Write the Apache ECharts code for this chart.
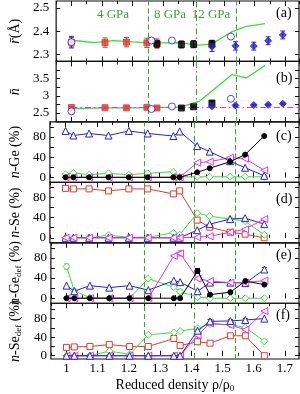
<!DOCTYPE html>
<html><head><meta charset="utf-8">
<script src="https://cdn.jsdelivr.net/npm/echarts@6/dist/echarts.min.js"></script>
<style>html,body{margin:0;padding:0;background:#fff}#c{width:300px;height:394px}</style>
</head><body><div id="c"></div>
<script>
// ---------- data ----------
const simX = [1.0, 1.025, 1.075, 1.137, 1.202, 1.262, 1.344, 1.364, 1.42, 1.46, 1.525, 1.573, 1.634];
// (a) mean bond length, (b) mean coordination: simulation
const simR = [2.361, 2.358, 2.351, 2.360, 2.354, 2.349, 2.351, 2.349, 2.340, 2.346, 2.397, 2.421, 2.433];
const simN = [2.625, 2.63, 2.64, 2.65, 2.65, 2.655, 2.67, 2.69, 2.846, 3.14, 3.615, 3.52, 3.885];
// experiments
const expRedX = [1.0, 1.11, 1.18, 1.247, 1.28];
const expRedR = [2.353, 2.351, 2.353, 2.350, 2.347];
const expRedRErr = [0.02, 0.02, 0.02, 0.02, 0.02];
const expRedN = [2.66, 2.654, 2.65, 2.664, 2.645];
const expRedNErr = [0.03, 0.02, 0.03, 0.02, 0.03];
const expBlackX = [1.28, 1.36, 1.40, 1.46];
const expBlackR = [2.346, 2.343, 2.344, 2.346];
const expBlackRErr = [0.015, 0.015, 0.015, 0.015];
const expBlackN = [null, 2.644, 2.68, 2.79];
const expBlackNErr = [0, 0.02, 0.02, 0.05];
const expBlueOX = [1.0, 1.262, 1.329, 1.522];
const expBlueOR = [2.353, 2.360, 2.360, 2.377];
const expBlueORErr = [0.025, 0, 0, 0];
const expBlueON = [2.548, 2.615, 2.69, 2.913];
const expBlueFX = [1.46, 1.537, 1.597, 1.644, 1.692];
const expBlueFR = [2.333, 2.337, 2.336, 2.359, 2.384];
const expBlueFRErr = [0.02, 0.018, 0.017, 0.017, 0.017];
const expBlueFN = [2.69, 2.72, 2.73, 2.74, 2.77];
const expBlueFNErr = [0.03, 0.02, 0.02, 0.02, 0.02];
const nRef = 2.66, nRefStart = 1.0;
// (c) n-Ge (%)
const geBlue  = [92, 83, 87, 83, 92, 87, 82, 91, 62, 51, 32, 19, 3];
const geGreen = [6, 9, 5, 8, 5, 8, 11, 1, 1, 1, 1, 1, 1];
const geMag   = [0, 0, 0, 0, 0, 0, 0, 0, 29, 31, 39, 37, 14];
const geBlack = [0, 0, 0, 0, 0, 0, 0, 0, 10, 18, 31, 45, 82];
// (d) n-Se (%)
const seRed   = [98, 97, 97, 93, 97, 97, 87, 93, 35, 21, 11, 7, 0];
const seGreen = [0, 0, 0, 5, 1, 1, 10, 6, 49, 43, 37, 33, 6];
const seBlue  = [0, 0, 0, 0, 0, 0, 0, 0, 15, 27, 37, 39, 27];
const seMag   = [0, 0, 0, 0, 0, 0, 0, 0, 1, 3, 11, 17, 37];
// (e) n-Ge_def (%)
const gdGreen = [63, 15, 1, 0, 0, 39, 22, 13, 2, 0, 0, 0, 0];
const gdGreenErr = [5, 0, 0, 0, 0, 0, 0, 4, 0, 0, 0, 0, 0];
const gdBlue  = [25, 14, 25, 21, 25, 16, 35, 32, 14, 31, 31, 30, 57];
const gdBlueErr = [0, 0, 0, 0, 0, 0, 0, 0, 0, 0, 0, 0, 4];
const gdMag   = [0, 0, 0, 0, 0, 0, 84, 89, 39, 34, 31, 31, 35];
const gdMagErr = [0, 0, 0, 0, 0, 0, 0, 5, 0, 0, 0, 0, 0];
const gdBlack = [0, 0, 0, 0, 0, 0, 0, 0, 54, 7, 12, 34, 27];
const gdBlackErr = [0, 0, 0, 0, 0, 0, 0, 0, 5, 0, 0, 0, 0];
// (f) n-Se_def (%)
const sdRed   = [18, 19, 20, 24, 20, 20, 37, 22, 30, 27, 43, 43, 0];
const sdRedErr = [0, 0, 0, 0, 0, 0, 0, 0, 5, 0, 4, 4, 0];
const sdGreen = [0, 0, 0, 10, 3, 45, 50, 53, 59, 68, 67, 61, 31];
const sdBlue  = [0, 0, 0, 0, 0, 0, 0, 0, 54, 74, 75, 77, 80];
const sdBlueErr = [0, 0, 0, 0, 0, 0, 0, 0, 5, 4, 3, 3, 0];
const sdMag   = [0, 0, 0, 0, 0, 0, 0, 0, 44, 70, 66, 56, 96];
const sdMagErr = [0, 0, 0, 0, 0, 0, 0, 0, 15, 0, 0, 0, 0];
// pressure markers
const gpaX = [1.245, 1.41, 1.542];
const gpaLabels = ['4 GPa', '8 GPa', '12 GPa'];
// ticks
const xMajor = [1.0, 1.1, 1.2, 1.3, 1.4, 1.5, 1.6, 1.7];
const yTicksA = [2.3, 2.4, 2.5], yLabelsA = [2.3, 2.4, 2.5];
const yTicksB = [2.5, 2.75, 3, 3.25, 3.5, 3.75], yLabelsB = [2.5, 3, 3.5];
const yTicksP = [0, 20, 40, 60, 80, 100], yLabelsP = [0, 40, 80];
const panelTags = ['(a)', '(b)', '(c)', '(d)', '(e)', '(f)'];
const yNames = ['{i|r\u0304}(Å)', '{i|n\u0304}', '{i|n}-Ge (%)', '{i|n}-Se (%)', '{i|n}-Ge{s|def} (%)', '{i|n}-Se{s|def} (%)'];
const xName = 'Reduced density ρ/ρ{s|0}';

// ---------- layout / style ----------
const FONT = 'Liberation Serif';
const C = {blue:'#2323cf', green:'#3ddc3a', black:'#111', mag:'#e033e0', red:'#e23a2e', vline:'#3f9f3f'};
const L = 35, W = 264, T0 = 1, H = 60.45;
const xMin = 0.95, xMax = 1.745;
const yRanges = [[2.27, 2.53], [2.24, 4.0], [-10, 110], [-10, 110], [-10, 110], [-7, 113]];
const yTicks = [yTicksA, yTicksB, yTicksP, yTicksP, yTicksP, yTicksP];
const yLabels = [yLabelsA, yLabelsB, yLabelsP, yLabelsP, yLabelsP, yLabelsP];
const yLabelMargin = [7, 7, 4, 4, 4, 4];
const tagDy = [13, 18, 15, 18, 14, 13];

const grid = [], xAxis = [], yAxis = [], series = [], graphic = [];
const rich = {
  i: {fontFamily: FONT, fontStyle: 'italic', fontSize: 14, color: '#000'},
  s: {fontFamily: FONT, fontSize: 9, color: '#000', padding: [7, 0, 0, 0]}
};
for (let g = 0; g < 6; g++) {
  grid.push({left: L, width: W, top: T0 + H * g, height: H, show: true, borderColor: '#111', borderWidth: 1.2});
  const last = g === 5;
  const baseX = {type: 'value', gridIndex: g, min: xMin, max: xMax, splitLine: {show: false}, axisLine: {show: false}};
  xAxis.push(Object.assign({}, baseX, {position: 'bottom',
    axisTick: {inside: true, length: 5, customValues: xMajor, lineStyle: {color: '#111'}},
    axisLabel: {show: last, customValues: xMajor, fontFamily: FONT, fontSize: 13, color: '#000', margin: 3},
    name: last ? xName : '', nameLocation: 'middle', nameGap: 18,
    nameTextStyle: {fontFamily: FONT, fontSize: 14, color: '#000', rich}}));
  xAxis.push(Object.assign({}, baseX, {position: 'bottom', interval: 0.05,
    axisTick: {inside: true, length: 3, lineStyle: {color: '#111'}}, axisLabel: {show: false}}));
  xAxis.push(Object.assign({}, baseX, {position: 'top',
    axisTick: {inside: true, length: 5, customValues: xMajor, lineStyle: {color: '#111'}}, axisLabel: {show: false}}));
  xAxis.push(Object.assign({}, baseX, {position: 'top', interval: 0.05,
    axisTick: {inside: true, length: 3, lineStyle: {color: '#111'}}, axisLabel: {show: false}}));
  const baseY = {type: 'value', gridIndex: g, min: yRanges[g][0], max: yRanges[g][1], splitLine: {show: false}, axisLine: {show: false}};
  yAxis.push(Object.assign({}, baseY, {position: 'left',
    axisTick: {inside: true, length: 4, customValues: yTicks[g], lineStyle: {color: '#111'}},
    axisLabel: {customValues: yLabels[g], fontFamily: FONT, fontSize: 13, color: '#000', margin: yLabelMargin[g]},
    name: yNames[g], nameLocation: 'middle', nameRotate: 90, nameGap: 22,
    nameTextStyle: {fontFamily: FONT, fontSize: 14, color: '#000', rich}}));
  yAxis.push(Object.assign({}, baseY, {position: 'right',
    axisTick: {inside: true, length: 4, customValues: yTicks[g], lineStyle: {color: '#111'}},
    axisLabel: {show: false}}));
  // pressure lines
  series.push({type: 'line', xAxisIndex: 4 * g, yAxisIndex: 2 * g, data: [], silent: true,
    markLine: {symbol: 'none', silent: true, label: {show: false}, animation: false,
      lineStyle: {color: C.vline, width: 1.1},
      data: [
        {xAxis: gpaX[0], lineStyle: {type: [5, 3], color: C.vline, width: 1.1}},
        {xAxis: gpaX[1], lineStyle: {type: [6, 3, 1.5, 3], color: C.vline, width: 1.1}},
        {xAxis: gpaX[2], lineStyle: {type: [5, 3], color: C.vline, width: 1.1}}
      ]}});
  graphic.push({type: 'text', left: 276, top: T0 + H * g + tagDy[g] - 8,
    style: {text: panelTags[g], font: '14px "Liberation Serif"', fill: '#000'}});
}
// pressure labels
const gpaTextX = [113, 170, 211];
gpaLabels.forEach((t, k) => graphic.push({type: 'text', x: gpaTextX[k], y: 15,
  style: {text: t, font: '13px "Liberation Serif"', fill: C.vline, align: 'center', verticalAlign: 'middle'}}));

function pts(xs, ys) { return xs.map((x, k) => [x, ys[k]]).filter(d => d[1] !== null); }
function errSeries(g, xs, ys, es, color) {
  const data = xs.map((x, k) => [x, ys[k], es[k]]).filter(d => d[1] !== null && d[2] > 0);
  return {type: 'custom', xAxisIndex: 4 * g, yAxisIndex: 2 * g, silent: true, z: 3, data,
    encode: {x: 0, y: 1},
    renderItem: (p, api) => {
      const x = api.value(0), y = api.value(1), e = api.value(2);
      const a = api.coord([x, y + e]), b = api.coord([x, y - e]);
      const w = 2.5, st = {stroke: color, lineWidth: 1};
      return {type: 'group', children: [
        {type: 'line', shape: {x1: a[0], y1: a[1], x2: b[0], y2: b[1]}, style: st},
        {type: 'line', shape: {x1: a[0] - w, y1: a[1], x2: a[0] + w, y2: a[1]}, style: st},
        {type: 'line', shape: {x1: b[0] - w, y1: b[1], x2: b[0] + w, y2: b[1]}, style: st}]};
    }};
}
function simLine(g, ys, color, symbol, size, open, z, rot) {
  return {type: 'line', xAxisIndex: 4 * g, yAxisIndex: 2 * g, data: pts(simX, ys), color,
    symbol, symbolSize: size, symbolRotate: rot || 0, showSymbol: true, z,
    lineStyle: {color, width: 1},
    itemStyle: {color: open ? '#fff' : color, borderColor: color, borderWidth: 1}};
}
function scat(g, xs, ys, color, symbol, size, open, z) {
  return {type: 'scatter', xAxisIndex: 4 * g, yAxisIndex: 2 * g, data: pts(xs, ys), color,
    symbol, symbolSize: size, z,
    itemStyle: {color: open ? '#fff' : color, borderColor: color, borderWidth: 1}};
}
function greenCurve(g, ys) {
  return {type: 'line', xAxisIndex: 4 * g, yAxisIndex: 2 * g, data: pts(simX, ys), showSymbol: false,
    symbol: 'none', z: 2, lineStyle: {color: C.green, width: 1.3}};
}
// (a)
series.push(greenCurve(0, simR));
series.push(errSeries(0, expRedX, expRedR, expRedRErr, C.red));
series.push(scat(0, expRedX, expRedR, C.red, 'rect', 6, false, 4));
series.push(errSeries(0, expBlackX, expBlackR, expBlackRErr, '#000'));
series.push(scat(0, expBlackX, expBlackR, '#000', 'rect', 6, false, 5));
series.push(errSeries(0, expBlueOX, expBlueOR, expBlueORErr, C.blue));
series.push(scat(0, expBlueOX, expBlueOR, C.blue, 'circle', 7, true, 6));
series.push(errSeries(0, expBlueFX, expBlueFR, expBlueFRErr, C.blue));
series.push(scat(0, expBlueFX, expBlueFR, C.blue, 'diamond', 7, false, 6));
// (b)
series.push({type: 'line', xAxisIndex: 4, yAxisIndex: 2, data: [], silent: true,
  markLine: {symbol: 'none', silent: true, label: {show: false}, animation: false,
    lineStyle: {color: C.mag, width: 1.2, type: [6, 3, 1.5, 3]},
    data: [[{coord: [nRefStart, nRef]}, {coord: [xMax, nRef]}]]}});
series.push(greenCurve(1, simN));
series.push(errSeries(1, expRedX, expRedN, expRedNErr, C.red));
series.push(scat(1, expRedX, expRedN, C.red, 'rect', 6, false, 4));
series.push(errSeries(1, expBlackX, expBlackN, expBlackNErr, '#000'));
series.push(scat(1, expBlackX, expBlackN, '#000', 'rect', 6, false, 5));
series.push(scat(1, expBlueOX, expBlueON, C.blue, 'circle', 7, true, 6));
series.push(errSeries(1, expBlueFX, expBlueFN, expBlueFNErr, C.blue));
series.push(scat(1, expBlueFX, expBlueFN, C.blue, 'diamond', 7, false, 6));
// (c)
series.push(simLine(2, geGreen, C.green, 'diamond', 7, true, 3));
series.push(simLine(2, geMag, C.mag, 'triangle', 7, true, 4, 90));
series.push(simLine(2, geBlue, C.blue, 'triangle', 7, true, 5));
series.push(simLine(2, geBlack, '#000', 'circle', 5, false, 6));
// (d)
series.push(simLine(3, seRed, C.red, 'rect', 6, true, 3));
series.push(simLine(3, seGreen, C.green, 'diamond', 7, true, 4));
series.push(simLine(3, seBlue, C.blue, 'triangle', 7, true, 5));
series.push(simLine(3, seMag, C.mag, 'triangle', 7, true, 6, 90));
// (e)
series.push(simLine(4, gdGreen, C.green, 'diamond', 7, true, 3));
series.push(errSeries(4, simX, gdGreen, gdGreenErr, C.green));
series.push(simLine(4, gdBlue, C.blue, 'triangle', 7, true, 4));
series.push(errSeries(4, simX, gdBlue, gdBlueErr, C.blue));
series.push(simLine(4, gdMag, C.mag, 'triangle', 7, true, 5, 90));
series.push(errSeries(4, simX, gdMag, gdMagErr, C.mag));
series.push(simLine(4, gdBlack, '#000', 'circle', 5, false, 6));
series.push(errSeries(4, simX, gdBlack, gdBlackErr, '#000'));
// (f)
series.push(simLine(5, sdRed, C.red, 'rect', 6, true, 3));
series.push(errSeries(5, simX, sdRed, sdRedErr, C.red));
series.push(simLine(5, sdGreen, C.green, 'diamond', 7, true, 4));
series.push(simLine(5, sdMag, C.mag, 'triangle', 7, true, 5, 90));
series.push(errSeries(5, simX, sdMag, sdMagErr, C.mag));
series.push(simLine(5, sdBlue, C.blue, 'triangle', 7, true, 6));
series.push(errSeries(5, simX, sdBlue, sdBlueErr, C.blue));

const chart = echarts.init(document.getElementById('c'), null, {renderer: 'canvas'});
chart.setOption({animation: false, grid, xAxis, yAxis, series, graphic});
</script></body></html>
